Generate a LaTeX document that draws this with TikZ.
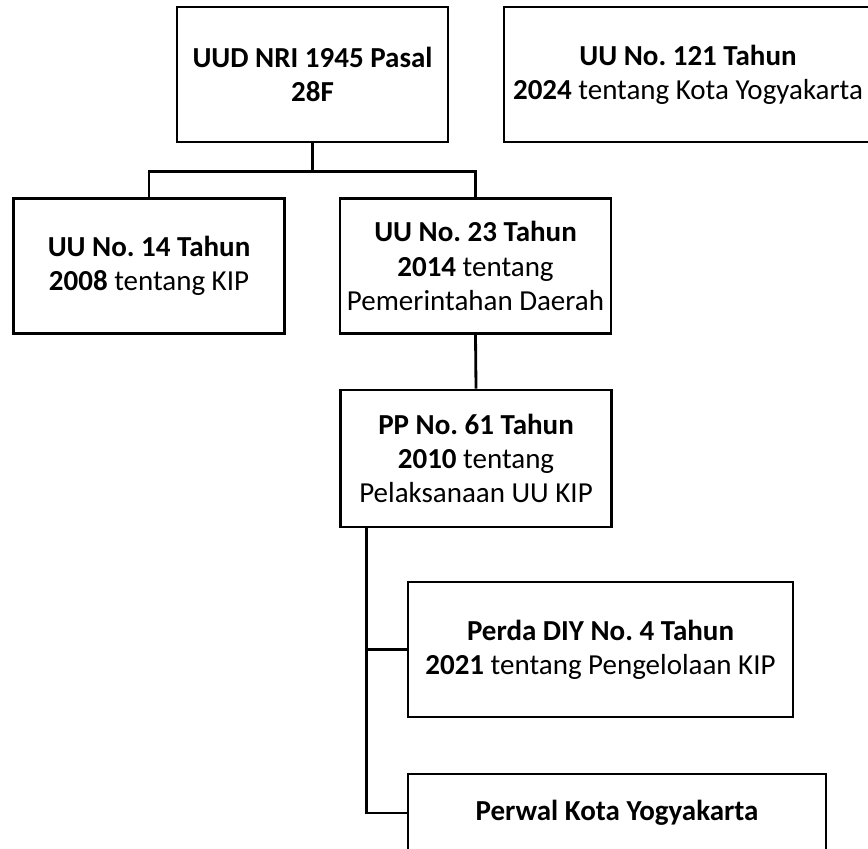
\documentclass[tikz,border=0pt]{standalone}
\usepackage{fontspec}
\setmainfont{Carlito}
\frenchspacing

\begin{document}
\begin{tikzpicture}[line width=1.6pt,
    box/.style={draw, align=center, minimum width=5.42cm, minimum height=2.7cm,
      inner sep=2pt, font=\fontsize{16.5}{19.4}\selectfont}]
            \useasboundingbox (0,0) rectangle (17.36,16.96);
            \clip (0,0) rectangle (17.36,16.96);
            \node[box] (A) at (6.25,15.47) {\textbf{UUD NRI 1945 Pasal}\\\textbf{28F}};
            \node[box, minimum width=7.36cm] (B) at (13.76,15.47) {\textbf{UU No. 121 Tahun}\\\textbf{2024} tentang Kota Yogyakarta};
            \node[box] (C) at (2.98,11.64) {\textbf{UU No. 14 Tahun}\\\textbf{2008} tentang KIP};
            \node[box] (D) at (9.51,11.64) {\textbf{UU No. 23 Tahun}\\\textbf{2014} tentang\\Pemerintahan Daerah};
            \node[box, minimum height=2.74cm] (E) at (9.52,7.79) {\textbf{PP No. 61 Tahun}\\\textbf{2010} tentang\\Pelaksanaan UU KIP};
            \node[box, minimum width=7.70cm] (F) at (12.01,3.97) {\textbf{Perda DIY No. 4 Tahun}\\\textbf{2021} tentang Pengelolaan KIP};
            \node[box, minimum width=8.36cm, minimum height=1.56cm] (G) at (12.34,0.70) {\textbf{Perwal Kota Yogyakarta}};
            \coordinate (T) at ([xshift=0.54cm]E.south west);
            \draw (A.south) -- ++(0,-0.56) -| (C.north);
            \draw (A.south) -- ++(0,-0.56) -| (D.north);
            \draw (D.south) -- (E.north);
            \draw (T) |- (F.west);
            \draw (T) |- (G.west);
        \end{tikzpicture}
\end{document}
